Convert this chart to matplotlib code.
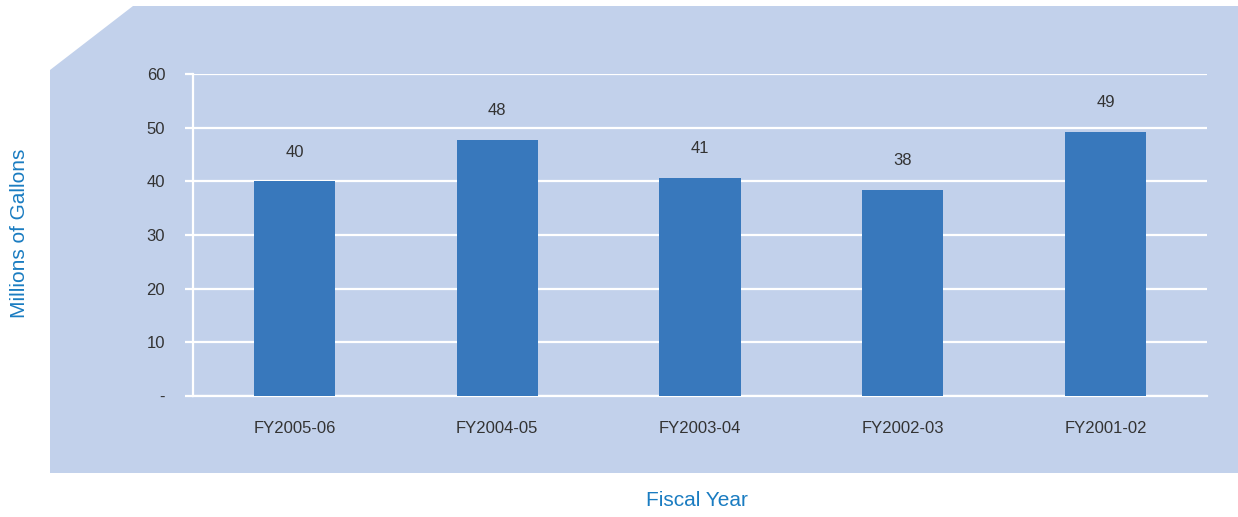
import matplotlib
matplotlib.use("Agg")
import matplotlib.pyplot as plt
from matplotlib.patches import Polygon
import numpy as np

## -- Data -- ##
years  = ["FY2005-06", "FY2004-05", "FY2003-04", "FY2002-03", "FY2001-02"]
gallons = [40.0, 47.7, 40.7, 38.4, 49.2]          # millions of gallons
y_ticks = [0, 10, 20, 30, 40, 50, 60]
y_tick_labels = ["-", "10", "20", "30", "40", "50", "60"]

PANEL  = "#c2d1eb"
BAR    = "#3878bc"
TXT    = "#333333"
ACCENT = "#1a7cc1"

plt.rcParams['font.family'] = ['Liberation Sans Narrow', 'Liberation Sans', 'DejaVu Sans']

W, H = 1238, 517
fig = plt.figure(figsize=(W / 100, H / 100), dpi=100)

# background panel with the clipped top-left corner
pts = [(50, 70), (133, 6), (1238, 6), (1238, 473), (50, 473)]
panel = Polygon([(x / W, 1 - y / H) for x, y in pts], closed=True,
                transform=fig.transFigure, facecolor=PANEL, edgecolor="none", zorder=-1)
fig.patches.append(panel)

ax = fig.add_axes([193 / W, 1 - 396 / H, (1207 - 193) / W, (396 - 74) / H])
ax.set_facecolor("none")

x = np.arange(len(years))
bars = ax.bar(x, gallons, width=0.40, color=BAR, zorder=3)

for xi, v in zip(x, gallons):
    ax.annotate(f"{v:.0f}", (xi, v), xytext=(0, 21), textcoords="offset points",
                ha="center", va="center", fontsize=12, color=TXT)

ax.set_xlim(-0.5, len(years) - 0.5)
ax.set_ylim(0, 60)
ax.set_yticks(y_ticks)
ax.set_yticklabels(y_tick_labels)
ax.set_xticks(x)
ax.set_xticklabels(years)

ax.yaxis.grid(True, color="white", linewidth=1.6, zorder=1)
ax.set_axisbelow(True)
for s in ["top", "right"]:
    ax.spines[s].set_visible(False)
ax.spines["left"].set_color("white")
ax.spines["left"].set_linewidth(1.6)
ax.spines["bottom"].set_color("white")
ax.spines["bottom"].set_linewidth(1.6)

ax.tick_params(axis="y", colors="white", length=6, width=1.6, labelcolor=TXT,
               labelsize=12, pad=14)
ax.tick_params(axis="x", length=0, labelcolor=TXT, labelsize=12, pad=18)

fig.text(20 / W, 1 - 233 / H, "Millions of Gallons", rotation=90, ha="center", va="center",
         fontsize=15, color=ACCENT)
fig.text(697 / W, 1 - 500 / H, "Fiscal Year", ha="center", va="center",
         fontsize=15, color=ACCENT)

fig.savefig("out.png", dpi=100)
